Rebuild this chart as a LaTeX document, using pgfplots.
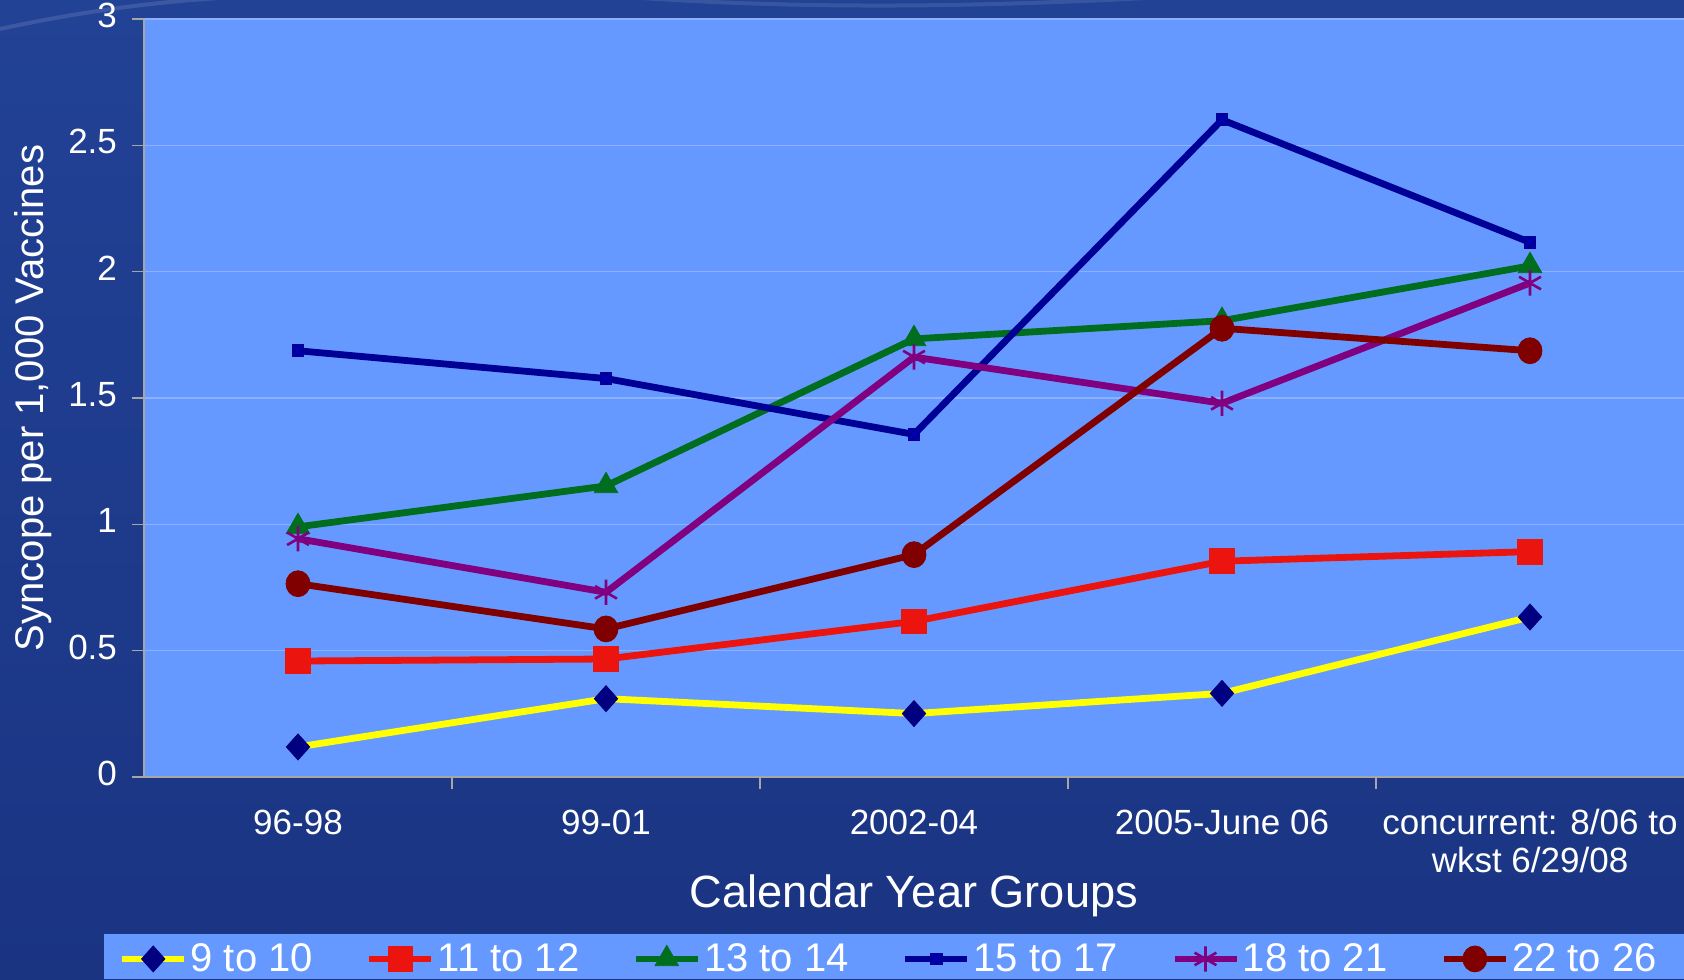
\documentclass[border=0pt]{standalone}
\usepackage{fontspec}
\setmainfont{Liberation Sans}
\usepackage{pgfplots}
\pgfplotsset{compat=1.18}
\definecolor{bgdark}{RGB}{26,52,130}
\definecolor{bgmid}{RGB}{34,66,150}
\definecolor{plotbg}{RGB}{102,153,255}
\definecolor{gridc}{RGB}{140,178,255}
\definecolor{cyellow}{RGB}{255,255,0}
\definecolor{cnavy}{RGB}{0,0,128}
\definecolor{cred}{RGB}{235,20,15}
\definecolor{cgreen}{RGB}{0,110,30}
\definecolor{cblue}{RGB}{0,0,150}
\definecolor{cpurple}{RGB}{128,0,128}
\definecolor{cdred}{RGB}{128,0,0}
\pgfdeclareplotmark{sqx}{%
  \pgfpathrectangle{\pgfpoint{-\pgfplotmarksize}{-\pgfplotmarksize}}{\pgfpoint{2\pgfplotmarksize}{2\pgfplotmarksize}}%
  \pgfusepathqfill
  \pgfsetlinewidth{0.6pt}%
  \pgfsetstrokecolor{blue!45!cblue}%
  \pgfpathmoveto{\pgfpoint{-0.8\pgfplotmarksize}{-0.8\pgfplotmarksize}}\pgfpathlineto{\pgfpoint{0.8\pgfplotmarksize}{0.8\pgfplotmarksize}}%
  \pgfpathmoveto{\pgfpoint{-0.8\pgfplotmarksize}{0.8\pgfplotmarksize}}\pgfpathlineto{\pgfpoint{0.8\pgfplotmarksize}{-0.8\pgfplotmarksize}}%
  \pgfusepathqstroke
}
\begin{document}
\begin{tikzpicture}
\shade[top color=bgmid, bottom color=bgdark] (0,0) rectangle (842pt,489.5pt);
\path[use as bounding box] (0,0) rectangle (842pt,489.5pt);
\draw[white, opacity=0.12, line width=2pt] (0pt,475pt) .. controls (60pt,488pt) and (110pt,492pt) .. (160pt,492pt);
\draw[white, opacity=0.10, line width=2pt] (300pt,492pt) .. controls (400pt,484pt) and (500pt,486pt) .. (600pt,492pt);
\fill[plotbg] (52pt,0) rectangle (842pt,22.5pt);
\begin{axis}[
  at={(72pt,101pt)}, anchor=south west,
  scale only axis, width=770pt, height=379pt,
  xmin=-0.5, xmax=4.5, ymin=0, ymax=3,
  axis background/.style={fill=plotbg},
  axis x line*=bottom, axis y line*=left,
  axis line style={draw=gray!70, line width=0.8pt, -},
  ymajorgrids, grid style={draw=gridc, line width=0.6pt},
  ytick={0,0.5,1,1.5,2,2.5,3},
  xtick={0,1,2,3,4},
  xticklabels={96-98,99-01,2002-04,2005-June 06,{concurrent: 8/06 to\\wkst 6/29/08}},
  typeset ticklabels with strut,
  xtick style={draw=none},
  ytick style={draw=gray!70, line width=0.8pt},
  extra x ticks={0.5,1.5,2.5,3.5},
  extra x tick labels={},
  extra x tick style={xtick style={draw=gray!70, line width=0.8pt}},
  tick align=outside, major tick length=6pt,
  /pgf/number format/assume math mode=true,
  xticklabel style={align=center, font=\fontsize{17.5}{19}\selectfont, text=white, yshift=-6pt},
  yticklabel style={font=\fontsize{17.5}{21}\selectfont, text=white, xshift=-4pt},
  xlabel={Calendar Year Groups},
  ylabel={Syncope per 1,000 Vaccines},
  every axis x label/.style={at={(axis description cs:0.5,-0.157)}, anchor=center, font=\fontsize{22.6}{26}\selectfont, text=white},
  every axis y label/.style={at={(axis description cs:-0.072,0.5)}, rotate=90, anchor=center, font=\fontsize{20}{24}\selectfont, text=white},
  legend style={at={(axis description cs:0.484,-0.240)}, anchor=center, legend columns=6, draw=none, fill=none,
    font=\fontsize{20}{24}\selectfont, text=white, nodes={inner xsep=1.5pt},
    /tikz/every even column/.append style={column sep=25pt}},
  legend image code/.code={\draw[mark repeat=2, mark phase=2, #1] plot coordinates {(0pt,0pt) (15.5pt,0pt) (31pt,0pt)};},
  every axis plot/.append style={line width=3.4pt},
]
\addplot[cyellow, mark=diamond*, mark size=6.5pt, mark options={fill=cnavy, draw=cnavy, line width=0.4pt, xscale=1.2}]
  coordinates {(0,0.119) (1,0.310) (2,0.251) (3,0.331) (4,0.633)};
\addlegendentry{9 to 10}
\addplot[cred, mark=square*, mark size=6.2pt, mark options={fill=cred, draw=cred, line width=0.4pt}]
  coordinates {(0,0.459) (1,0.467) (2,0.616) (3,0.854) (4,0.892)};
\addlegendentry{11 to 12}
\addplot[cgreen, mark=triangle*, mark size=6.8pt, mark options={fill=cgreen, draw=cgreen, line width=0.4pt}]
  coordinates {(0,0.990) (1,1.152) (2,1.734) (3,1.806) (4,2.023)};
\addlegendentry{13 to 14}
\addplot[cblue, mark=sqx, mark size=3.2pt, mark options={fill=cblue, line width=0.6pt}]
  coordinates {(0,1.687) (1,1.577) (2,1.356) (3,2.601) (4,2.116)};
\addlegendentry{15 to 17}
\addplot[cpurple, mark=asterisk, mark size=6.3pt, mark options={draw=cpurple, line width=1.3pt}]
  coordinates {(0,0.943) (1,0.731) (2,1.662) (3,1.479) (4,1.955)};
\addlegendentry{18 to 21}
\addplot[cdred, mark=*, mark size=6pt, mark options={fill=cdred, draw=cdred, line width=0.4pt, yscale=1.08}]
  coordinates {(0,0.765) (1,0.586) (2,0.880) (3,1.776) (4,1.687)};
\addlegendentry{22 to 26}
\end{axis}
\end{tikzpicture}
\end{document}
